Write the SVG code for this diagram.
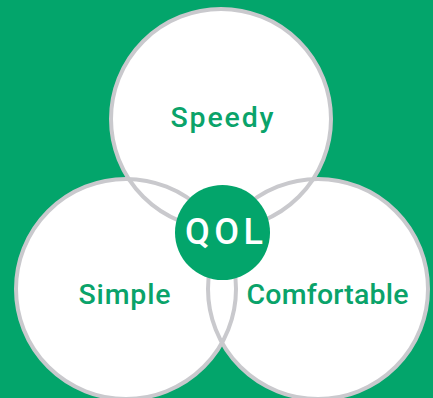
<svg xmlns="http://www.w3.org/2000/svg" width="433" height="398" viewBox="0 0 433 398">
<style>
.fill{fill:#ffffff;stroke:none}
.ring{fill:none;stroke:#c9c9cd;stroke-width:4}
.lbl{font-family:Roboto,"Liberation Sans",sans-serif;font-weight:500;font-size:28.5px;fill:#0aa36a}
.core{font-family:Roboto,"Liberation Sans",sans-serif;font-weight:500;font-size:36px;fill:#ffffff}
</style>
<rect width="433" height="398" fill="#03a56b"/>
<g id="fills">
<circle class="fill" cx="221" cy="119" r="110"/>
<circle class="fill" cx="126" cy="289" r="110"/>
<circle class="fill" cx="318" cy="289" r="110"/>
</g>
<g id="connectors"/>
<g id="speedy">
<circle class="ring" cx="221" cy="119" r="110"/>
<text class="lbl" x="170.5" y="127" textLength="103" lengthAdjust="spacing">Speedy</text>
</g>
<g id="simple">
<circle class="ring" cx="126" cy="289" r="110"/>
<text class="lbl" x="78.5" y="304" textLength="92" lengthAdjust="spacing">Simple</text>
</g>
<g id="comfortable">
<circle class="ring" cx="318" cy="289" r="110"/>
<text class="lbl" x="246.5" y="304" textLength="162" lengthAdjust="spacing">Comfortable</text>
</g>
<g id="qol">
<circle cx="222.5" cy="232.5" r="47.5" fill="#03a56b"/>
<text class="core" x="185" y="243.5" textLength="78" lengthAdjust="spacing">QOL</text>
</g>
</svg>
